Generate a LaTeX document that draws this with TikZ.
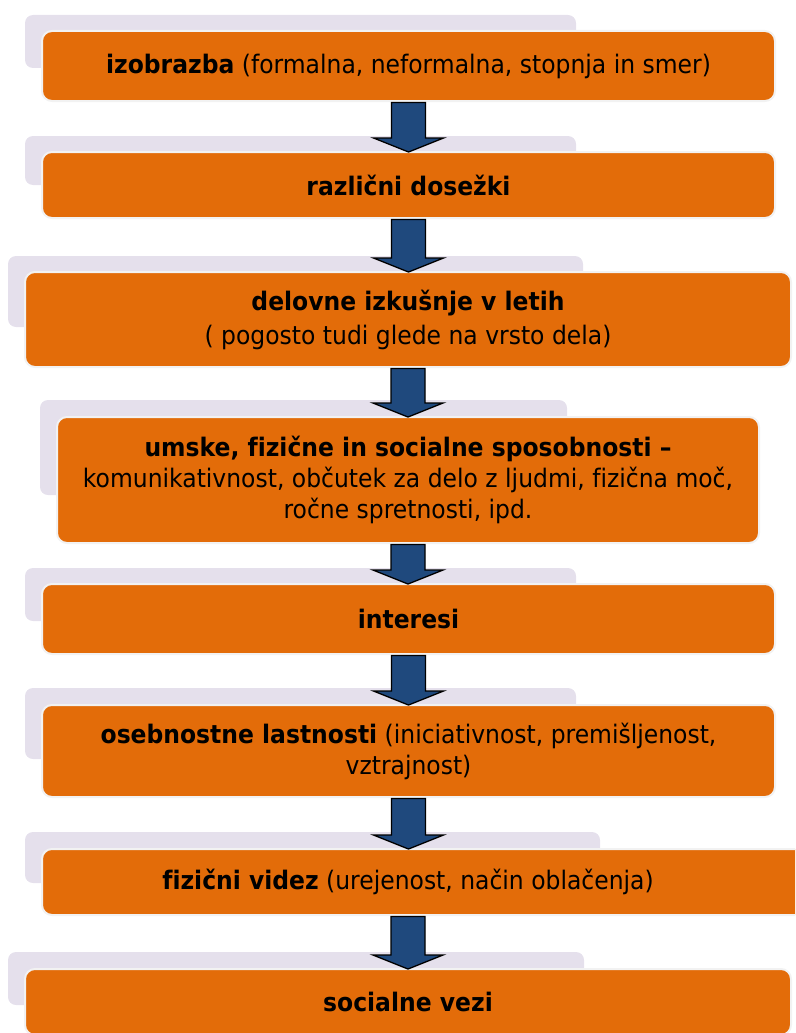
\documentclass[tikz,border=0pt]{standalone}
\usepackage{fontspec}
\setmainfont[Ligatures=NoCommon,FakeStretch=0.92]{DejaVu Sans}
\usetikzlibrary{calc}
\definecolor{boxorange}{HTML}{E36C09}
\definecolor{shadowlav}{HTML}{E5E0EC}
\definecolor{arrowblue}{HTML}{1F497D}
\definecolor{boxrim}{HTML}{F2F2F2}
\tikzset{
  obox/.style={fill=boxorange, draw=boxrim, line width=2pt, rounded corners=10pt,
    inner sep=0pt, outer sep=0pt, align=center,
    font=\fontsize{25.5}{31}\selectfont},
  btext/.style={inner sep=0pt, outer sep=0pt, align=center,
    font=\fontsize{25.5}{31}\selectfont},
  sbox/.style={fill=shadowlav, rounded corners=8pt},
  barrow/.style={fill=arrowblue, draw=black, line width=1.3pt, line join=miter},
}
% #1 source box, #2 target box, #3 node giving the x position
\newcommand\blockarrow[3]{%
  \draw[barrow] let \p1=(#3 |- #1.south), \p2=(#3 |- #2.north) in
    (\x1-17pt,\y1-1.5pt) -- (\x1+17pt,\y1-1.5pt) -- (\x1+17pt,\y2+14pt)
    -- (\x1+35pt,\y2+14pt) -- (\x1,\y2) -- (\x1-35pt,\y2+14pt)
    -- (\x1-17pt,\y2+14pt) -- cycle;}
\begin{document}
\begin{tikzpicture}[x=1pt,y=-1pt]
\useasboundingbox (0,0) rectangle (795,1033);
\clip (0,0) rectangle (795,1033);
% background panels
\fill[sbox] (25,15) rectangle (576,68);
\fill[sbox] (25,136) rectangle (576,185);
\fill[sbox] (8,256) rectangle (583,327);
\fill[sbox] (40,400) rectangle (567,495);
\fill[sbox] (25,568) rectangle (576,621);
\fill[sbox] (25,688) rectangle (576,759);
\fill[sbox] (25,832) rectangle (600,883);
\fill[sbox] (8,952) rectangle (584,1005);
% boxes
\node[obox, minimum width=733pt, minimum height=70pt] (b1) at (408.5,66)
  {\textbf{izobrazba} (formalna, neformalna, stopnja in smer)};
\node[obox, minimum width=733pt, minimum height=66pt] (b2) at (408.5,185)
  {\textbf{različni dosežki}};
\node[obox, minimum width=766pt, minimum height=95pt] (b3) at (408,319.5)
  {\textbf{delovne izkušnje v letih}\\[3pt]( pogosto tudi glede na vrsto dela)};
\node[obox, minimum width=702pt, minimum height=126pt] (b4) at (408,480)
  {\textbf{umske, fizične in socialne sposobnosti –}\\komunikativnost, občutek za delo z ljudmi, fizična moč,\\ročne spretnosti, ipd.};
\node[obox, minimum width=733pt, minimum height=70pt] (b5) at (408.5,619)
  {\textbf{interesi}};
\node[obox, minimum width=733pt, minimum height=92pt] (b6) at (408.5,751)
  {\textbf{osebnostne lastnosti} (iniciativnost, premišljenost,\\vztrajnost)};
\node[obox, minimum width=768pt, minimum height=66pt] (b7) at (426,882) {};
\node[btext] (b7t) at (408,882) {\textbf{fizični videz} (urejenost, način oblačenja)};
\node[obox, minimum width=766pt, minimum height=66pt] (b8) at (408,1002)
  {\textbf{socialne vezi}};
% arrows
\blockarrow{b1}{b2}{b1}
\blockarrow{b2}{b3}{b2}
\blockarrow{b3}{b4}{b3}
\blockarrow{b4}{b5}{b4}
\blockarrow{b5}{b6}{b5}
\blockarrow{b6}{b7}{b6}
\blockarrow{b7}{b8}{b8}
\end{tikzpicture}
\end{document}
